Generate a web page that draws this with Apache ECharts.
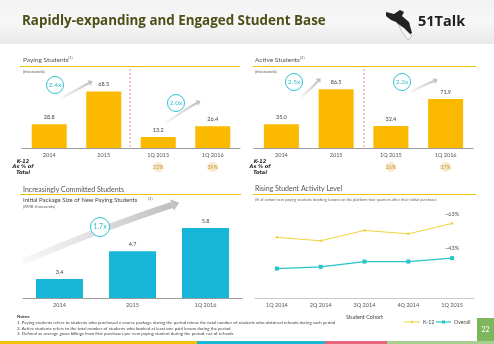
<!DOCTYPE html>
<html><head><meta charset="utf-8">
<script src="https://cdn.jsdelivr.net/npm/echarts@6/dist/echarts.min.js"></script>
<style>html,body{margin:0;padding:0;background:#fff}#c{width:494px;height:344px}</style>
</head><body><div id="c"></div>
<script>
const payCats = ['2014', '2015', '1Q 2015', '1Q 2016'];
const payVals = [28.8, 68.5, 13.2, 26.4];
const payK12 = ['23%', '39%'];
const actCats = ['2014', '2015', '1Q 2015', '1Q 2016'];
const actVals = [35.0, 86.5, 32.4, 71.9];
const actK12 = ['26%', '37%'];
const pkgCats = ['2014', '2015', '1Q 2016'];
const pkgVals = [3.4, 4.7, 5.8];
const cohortCats = ['1Q 2014', '2Q 2014', '3Q 2014', '4Q 2014', '1Q 2015'];
const k12Vals = [55, 53, 59, 57, 63];
const overallVals = [37, 38, 41, 41, 43];
const lastLabels = ['~63%', '~43%'];
const seriesNames = ['K-12', 'Overall'];

const F = 'Lato, "Open Sans", sans-serif';
const YEL = '#fbb900', CYAN = '#17b6d8', K12C = '#efd33a', OVC = '#26c3c9';
const chart = echarts.init(document.getElementById('c'), null, {renderer: 'canvas'});

function xAx(idx, cats, extra) {
  return Object.assign({
    type: 'category', gridIndex: idx, data: cats,
    axisLine: {lineStyle: {color: '#9a9a9a', width: 1}}, axisTick: {show: false},
    axisLabel: {fontSize: 5.5, color: '#555', margin: 4, fontFamily: F}
  }, extra || {});
}
function yAx(idx, min, max) {
  return {type: 'value', gridIndex: idx, min: min, max: max, show: false, splitLine: {show: false}};
}
const barLabel = {show: true, position: 'top', distance: 4, fontSize: 5.5, color: '#444', fontFamily: F,
  formatter: p => Number(p.value).toFixed(1)};

function lastOnly(vals, txt) {
  return vals.map((v, i) => i === vals.length - 1
    ? {value: v, label: {show: true, position: 'top', distance: 5, formatter: txt, fontSize: 5.5, color: '#555', fontFamily: F}}
    : v);
}

chart.setOption({
  animation: false,
  grid: [
    {left: 22, top: 82, width: 218, height: 66},
    {left: 254, top: 80, width: 219, height: 68},
    {left: 23, top: 213, width: 219, height: 85},
    {left: 255, top: 194, width: 219, height: 104}
  ],
  xAxis: [
    xAx(0, payCats), xAx(1, actCats), xAx(2, pkgCats),
    xAx(3, cohortCats, {axisLine: {lineStyle: {color: '#c8c8c8'}}, name: 'Student Cohort', nameLocation: 'middle', nameGap: 16,
      nameTextStyle: {fontSize: 5.5, color: '#444', fontFamily: F}})
  ],
  yAxis: [yAx(0, 0, 80), yAx(1, 0, 100), yAx(2, 2.5, 6.5), yAx(3, 20, 80)],
  series: [
    {type: 'bar', xAxisIndex: 0, yAxisIndex: 0, data: payVals, barWidth: 35, itemStyle: {color: YEL}, label: barLabel},
    {type: 'bar', xAxisIndex: 1, yAxisIndex: 1, data: actVals, barWidth: 35, itemStyle: {color: YEL}, label: barLabel},
    {type: 'bar', xAxisIndex: 2, yAxisIndex: 2, data: pkgVals, barWidth: 47, itemStyle: {color: CYAN}, label: barLabel},
    {type: 'line', name: seriesNames[0], xAxisIndex: 3, yAxisIndex: 3, data: lastOnly(k12Vals, lastLabels[0]),
      symbol: 'circle', symbolSize: 2.5, lineStyle: {color: K12C, width: 1}, itemStyle: {color: K12C}},
    {type: 'line', name: seriesNames[1], xAxisIndex: 3, yAxisIndex: 3, data: lastOnly(overallVals, lastLabels[1]),
      symbol: 'rect', symbolSize: 4, lineStyle: {color: OVC, width: 1.2}, itemStyle: {color: OVC}}
  ]
});

function txt(x, y, s, size, opt) {
  return {type: 'text', x: x, y: y, silent: true, style: Object.assign({text: s, fontSize: size, fill: '#555', fontFamily: F, textVerticalAlign: 'middle'}, opt || {})};
}
function hline(x1, x2, y, color, w) {
  return {type: 'line', silent: true, shape: {x1: x1, y1: y, x2: x2, y2: y}, style: {stroke: color, lineWidth: w || 1}};
}
function circ(cx, cy, r, s, fs) {
  return {type: 'group', silent: true, children: [
    {type: 'circle', shape: {cx: cx, cy: cy, r: r}, style: {fill: '#fff', stroke: '#2fc1cf', lineWidth: 1}},
    {type: 'text', x: cx, y: cy, style: {text: s, fontSize: fs, fill: '#2fc1cf', fontFamily: F, textAlign: 'center', textVerticalAlign: 'middle'}}
  ]};
}
function arrow(x1, y1, cx, cy, x2, y2, w, head) {
  const ang = Math.atan2(y2 - cy, x2 - cx);
  const hx = x2 + Math.cos(ang) * head, hy = y2 + Math.sin(ang) * head;
  const px = -Math.sin(ang) * head * 0.8, py = Math.cos(ang) * head * 0.8;
  return {type: 'group', silent: true, children: [
    {type: 'bezierCurve', shape: {x1: x1, y1: y1, x2: x2, y2: y2, cpx1: cx, cpy1: cy},
      style: {stroke: new echarts.graphic.LinearGradient(0, 0, 1, 0, [{offset: 0, color: 'rgba(200,200,200,0.1)'}, {offset: 1, color: '#bdbdbd'}]), lineWidth: w, fill: null}},
    {type: 'polygon', shape: {points: [[hx, hy], [x2 + px, y2 + py], [x2 - px, y2 - py]]}, style: {fill: '#c0c0c0'}}
  ]};
}
function pill(cx, cy, s) {
  return {type: 'group', silent: true, children: [
    {type: 'ellipse', shape: {cx: cx, cy: cy, rx: 15, ry: 6},
      style: {fill: new echarts.graphic.RadialGradient(0.5, 0.5, 0.5, [{offset: 0, color: '#fbefd8'}, {offset: 0.7, color: '#f8e6c4'}, {offset: 1, color: 'rgba(255,255,255,0)'}])}},
    {type: 'text', x: cx, y: cy, style: {text: s, fontSize: 5.5, fill: '#c49a3c', fontFamily: F, textAlign: 'center', textVerticalAlign: 'middle'}}
  ]};
}
function k12note(x) {
  return {type: 'text', x: x, y: 167, silent: true, style: {text: 'K-12\nAs % of\nTotal', fontSize: 5, lineHeight: 5.5, fill: '#222',
    fontWeight: 'bold', fontStyle: 'italic', fontFamily: '"DejaVu Sans", sans-serif', textAlign: 'center', textVerticalAlign: 'middle'}};
}

const P = (ai, c) => chart.convertToPixel({xAxisIndex: ai}, c);
const els = [
  {type: 'rect', silent: true, z: -10, shape: {x: 0, y: 0, width: 494, height: 44},
    style: {fill: new echarts.graphic.LinearGradient(0, 0, 0, 1, [{offset: 0, color: '#f2f2f2'}, {offset: 0.5, color: '#f7f7f7'}, {offset: 1, color: '#e9e9e9'}])}},
  txt(22, 21, 'Rapidly-expanding and Engaged Student Base', 13.4, {fill: '#4c5018', fontWeight: 'bold', fontFamily: '"Open Sans", sans-serif'}),
  {type: 'polygon', silent: true, shape: {points: [[386, 12], [394, 14], [400, 10], [404, 12], [402, 16], [409, 22], [412, 33], [407, 36], [400, 26], [396, 22], [391, 20], [386, 16]]}, style: {fill: '#222'}},
  {type: 'polygon', silent: true, shape: {points: [[398, 24], [404, 28], [412, 36], [408, 40], [402, 32]]}, style: {fill: '#f4f4f4', stroke: '#999', lineWidth: 0.5}},
  txt(418, 22, '51Talk', 14.5, {fill: '#222', fontWeight: 'bold', fontFamily: '"Open Sans", sans-serif'}),

  txt(23, 60, 'Paying Students', 6.5, {fill: '#555'}), txt(68, 58, '(1)', 4, {fill: '#666'}),
  hline(20, 240, 66.5, '#f2c200', 1),
  txt(23, 72, '(thousands)', 4.3, {fill: '#666'}),
  txt(255, 60, 'Active Students', 6.5, {fill: '#555'}), txt(300, 58, '(2)', 4, {fill: '#666'}),
  hline(253, 476, 66.5, '#f2c200', 1),
  txt(255, 72, '(thousands)', 4.3, {fill: '#666'}),
  {type: 'line', silent: true, shape: {x1: 130, y1: 69, x2: 130, y2: 148}, style: {stroke: '#e36a6a', lineWidth: 0.8, lineDash: [2, 2]}},
  {type: 'line', silent: true, shape: {x1: 364, y1: 69, x2: 364, y2: 148}, style: {stroke: '#e36a6a', lineWidth: 0.8, lineDash: [2, 2]}},
  arrow(60, 99, 76, 90, 89, 83, 2.2, 4), circ(55, 85, 8.5, '2.4x', 6.5),
  arrow(166, 123, 184, 110, 197, 103, 2.2, 4), circ(176, 103, 8.5, '2.0x', 6.5),
  arrow(301, 97, 312, 88, 318, 81, 2.2, 4), circ(294, 82, 8.5, '2.5x', 6.5),
  arrow(411, 92, 424, 85, 434, 81, 2.2, 4), circ(402, 82, 8.5, '2.2x', 6.5),
  k12note(23), k12note(260),

  txt(23, 190, 'Increasingly Committed Students', 7, {fill: '#555'}),
  hline(20, 241, 194.5, '#f2c200', 1),
  txt(23, 200.5, 'Initial Package Size of New Paying Students', 6, {fill: '#444'}), txt(148, 199, '(3)', 4, {fill: '#666'}),
  txt(23, 207, '(RMB thousands)', 4.3, {fill: '#666'}),
  arrow(22, 262, 110, 225, 172, 205, 6.5, 7.5), circ(100, 227, 9.5, '1.7x', 7),

  txt(255, 189, 'Rising Student Activity Level', 7, {fill: '#555'}),
  hline(253, 476, 194.5, '#f2c200', 1),
  txt(255, 199.5, '(% of cohort new paying students booking lessons on the platform four quarters after their initial purchase)', 3.9, {fill: '#666'}),

  txt(17, 317, 'Notes:', 4.5, {fill: '#333', fontWeight: 'bold'}),
  txt(17, 323, '1. Paying students refers to students who purchased a course package during the period minus the total number of students who obtained refunds during such period', 4.4, {fill: '#444'}),
  txt(17, 328.5, '2. Active students refers to the total number of students who booked at least one paid lesson during the period', 4.4, {fill: '#444'}),
  txt(17, 334, '3. Defined as average gross billings from first purchases per new paying student during the period, net of refunds', 4.4, {fill: '#444'}),

  {type: 'rect', silent: true, shape: {x: 477, y: 318, width: 17, height: 23}, style: {fill: '#7db65c'}},
  txt(485.5, 329.5, '22', 7, {fill: '#fff', textAlign: 'center'}),
  {type: 'rect', silent: true, shape: {x: 0, y: 341, width: 197, height: 3}, style: {fill: '#f5c000'}},
  {type: 'rect', silent: true, shape: {x: 197, y: 341, width: 128, height: 3}, style: {fill: '#1ab8d6'}},
  {type: 'rect', silent: true, shape: {x: 325, y: 341, width: 62, height: 3}, style: {fill: '#e9657c'}},
  {type: 'rect', silent: true, shape: {x: 387, y: 341, width: 107, height: 3}, style: {fill: '#a9cf8e'}},
  // legend
  {type: 'line', silent: true, shape: {x1: 404, y1: 322, x2: 420, y2: 322}, style: {stroke: K12C, lineWidth: 1}},
  {type: 'circle', silent: true, shape: {cx: 412, cy: 322, r: 1.2}, style: {fill: K12C}},
  txt(423, 322, seriesNames[0], 5.2, {fill: '#444'}),
  {type: 'line', silent: true, shape: {x1: 436, y1: 322, x2: 451, y2: 322}, style: {stroke: OVC, lineWidth: 1.2}},
  {type: 'rect', silent: true, shape: {x: 442, y: 320.5, width: 3, height: 3}, style: {fill: OVC}},
  txt(454, 322, seriesNames[1], 5.2, {fill: '#444'})
];
[[0, payCats[2], payK12[0]], [0, payCats[3], payK12[1]], [1, actCats[2], actK12[0]], [1, actCats[3], actK12[1]]].forEach(a => {
  els.push(pill(P(a[0], a[1]), 167, a[2]));
});
chart.setOption({graphic: els});
</script></body></html>
